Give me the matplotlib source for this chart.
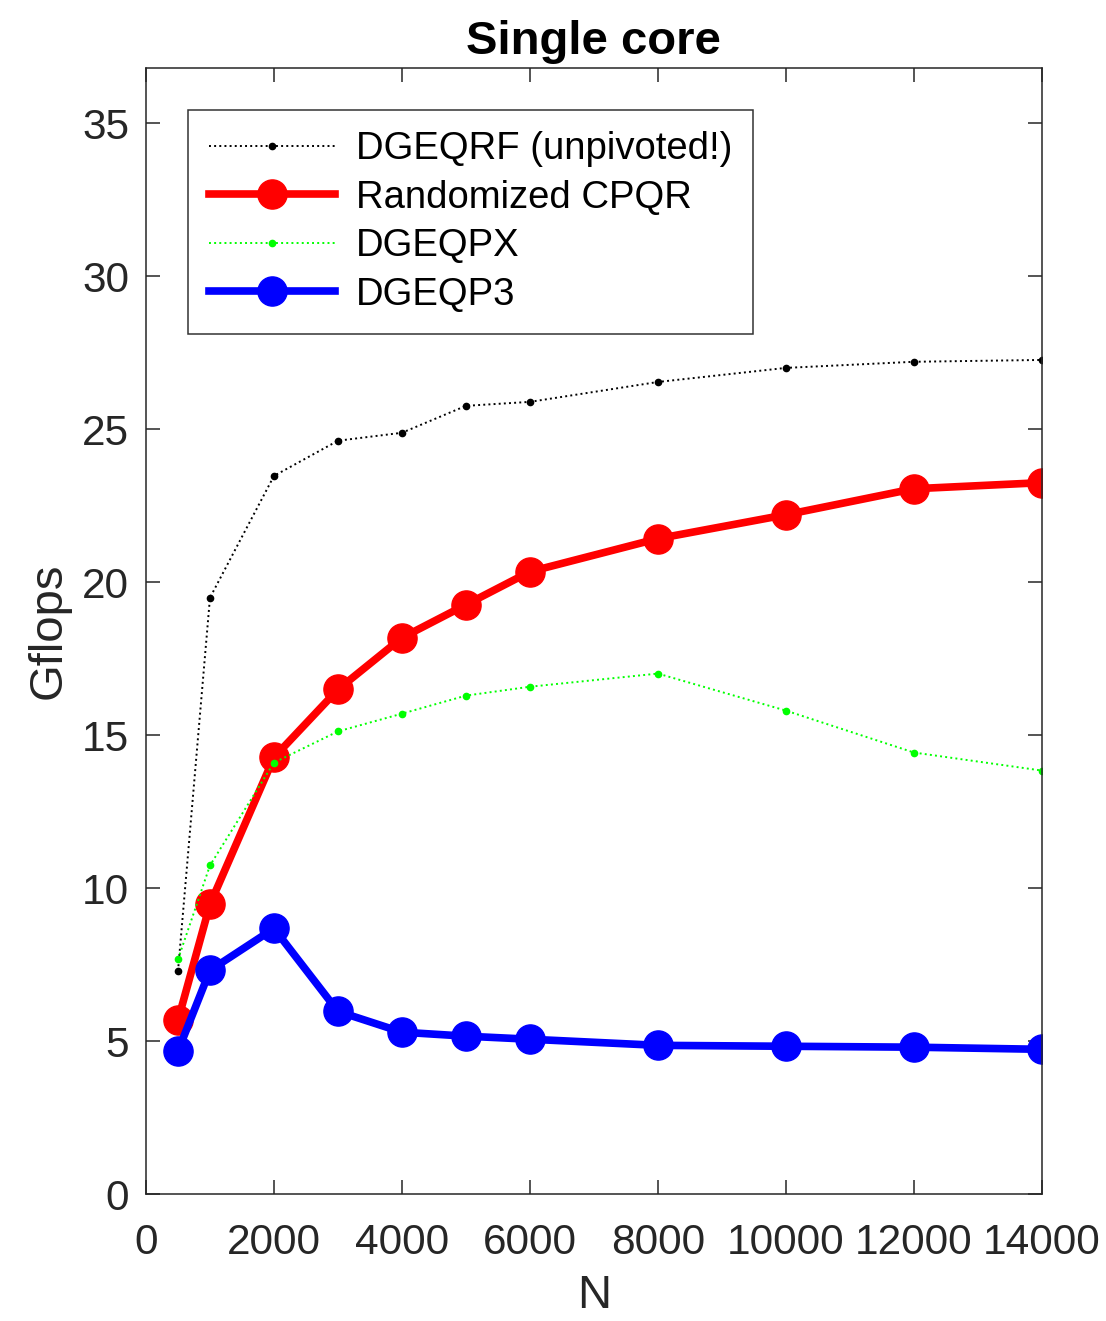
import numpy as np
import matplotlib.pyplot as plt

plt.rcParams['font.family'] = ['Liberation Sans', 'DejaVu Sans']

# 矩阵规模
N = [500, 1000, 2000, 3000, 4000, 5000, 6000, 8000, 10000, 12000, 14000]

# 各算法 Gflops
dgeqrf = [7.28, 19.49, 23.47, 24.62, 24.88, 25.76, 25.89, 26.54, 27.0, 27.2, 27.26]
rand_cpqr = [5.68, 9.47, 14.27, 16.49, 18.18, 19.26, 20.34, 21.42, 22.2, 23.05, 23.25]
dgeqpx = [7.67, 10.74, 14.1, 15.12, 15.7, 16.29, 16.58, 17.01, 15.8, 14.43, 13.84]
dgeqp3 = [4.67, 7.31, 8.68, 5.97, 5.29, 5.16, 5.06, 4.86, 4.83, 4.8, 4.73]

x_ticks = [0, 2000, 4000, 6000, 8000, 10000, 12000, 14000]
y_ticks = [0, 5, 10, 15, 20, 25, 30, 35]

fig = plt.figure(figsize=(11.06, 13.21), dpi=100)
ax = fig.add_axes([0.132, 0.0961, 0.81, 0.8524])

ax.plot(N, dgeqrf, ':', color='black', lw=1.4, marker='o', ms=4.5,
        label='DGEQRF (unpivoted!)')
ax.plot(N, rand_cpqr, '-', color='red', lw=5.5, marker='o', ms=21,
        label='Randomized CPQR')
ax.plot(N, dgeqpx, ':', color='#00ff00', lw=1.4, marker='o', ms=4.5,
        label='DGEQPX')
ax.plot(N, dgeqp3, '-', color='blue', lw=5.5, marker='o', ms=21,
        label='DGEQP3')

ax.set_xlim(0, 14000)
ax.set_ylim(0, 36.8)
ax.set_xticks(x_ticks)
ax.set_yticks(y_ticks)

gray = '#262626'
for s in ax.spines.values():
    s.set_color(gray)
    s.set_linewidth(1.1)
ax.tick_params(direction='in', length=10, width=1.1, color=gray,
               labelcolor=gray, labelsize=30.5, top=True, right=True, pad=12)
ax.tick_params(axis='x', pad=21)

ax.set_xlabel('N', fontsize=34, color=gray, labelpad=8)
ax.set_ylabel('Gflops', fontsize=34, color=gray, labelpad=8)
ax.set_title('Single core', fontsize=34, fontweight='bold', pad=10)

leg = ax.legend(loc='upper left', bbox_to_anchor=(42 / 896, 1 - 42 / 1126),
                fontsize=27.5, frameon=True, fancybox=False, borderaxespad=0,
                handlelength=3.3, handletextpad=0.55, labelspacing=0.33,
                borderpad=0.55)
leg.get_frame().set_edgecolor('black')
leg.get_frame().set_linewidth(1.1)

fig.savefig('out.png', dpi=100)
